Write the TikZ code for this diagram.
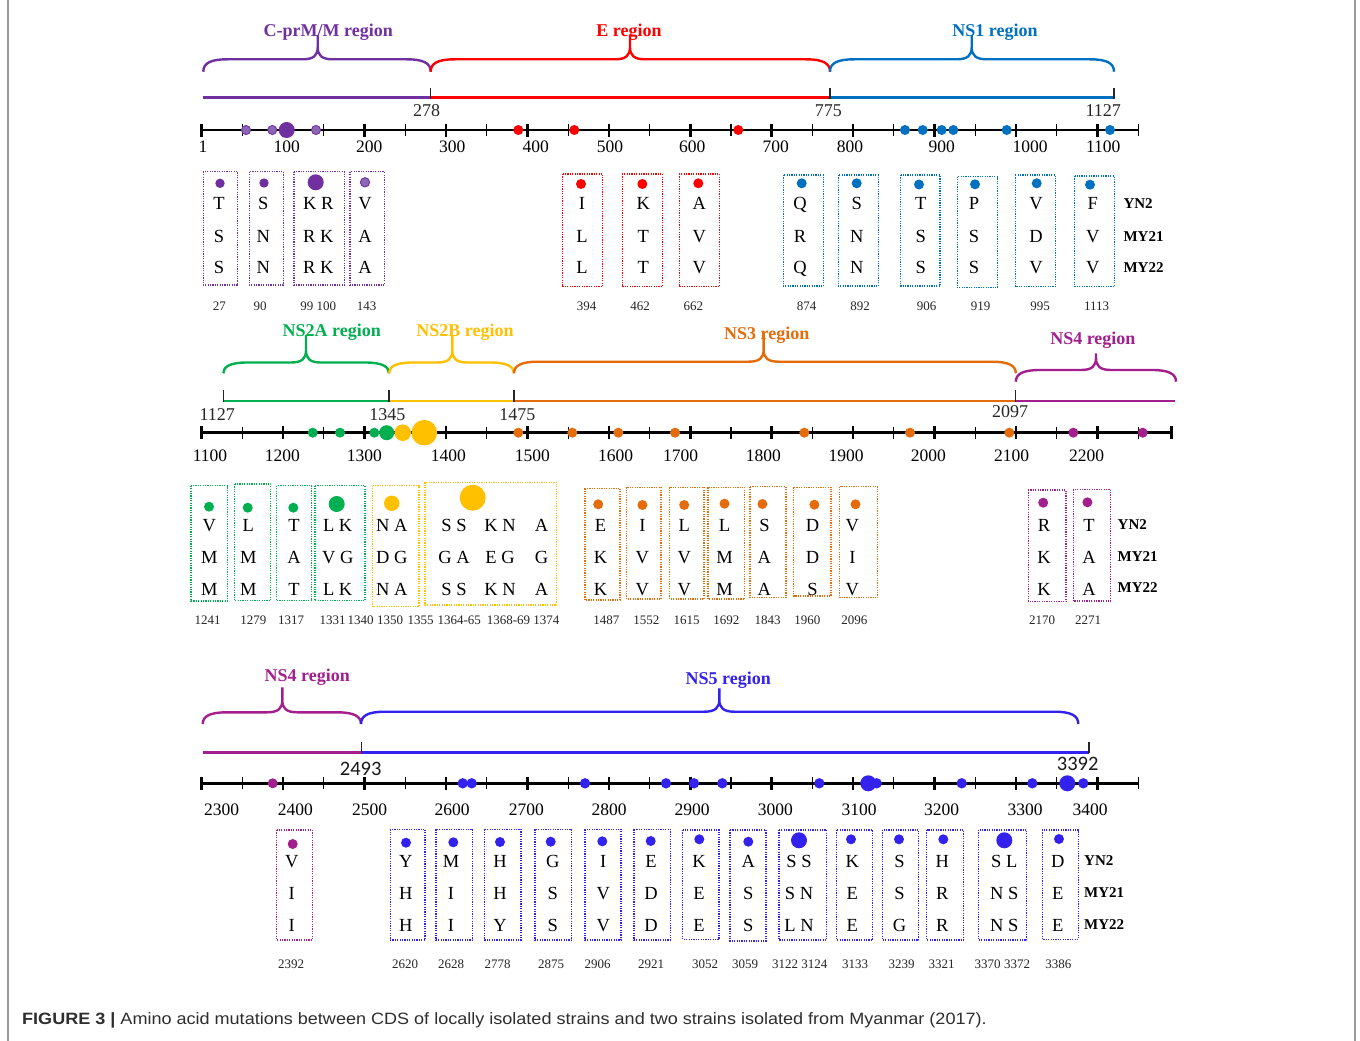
\documentclass[tikz,border=0pt]{standalone}
\usepackage{fontspec}
\usepackage{graphicx}
\setmainfont{Liberation Serif}
\newfontfamily\capsans{Liberation Sans}
\newfontfamily\carl{Carlito}
\definecolor{cprm}{HTML}{7030A0}
\definecolor{cprmlt}{HTML}{8A66B4}
\definecolor{eregion}{HTML}{FF0000}
\definecolor{nsone}{HTML}{0070C0}
\definecolor{nstwoa}{HTML}{00B050}
\definecolor{nstwob}{HTML}{FFC000}
\definecolor{nsthree}{HTML}{E46C0A}
\definecolor{nsfour}{HTML}{A31F8E}
\definecolor{nsfive}{HTML}{3322EE}
\definecolor{framegray}{HTML}{9A9A9A}
\definecolor{capgray}{HTML}{2E2E2E}

% curly brace over a genome region: colour, left x, right x, tip x, bar y, end y, tip y
\newcommand\regbrace[7]{%
  \draw[bracep, color=#1] (#2,#6) .. controls (#2,#5+4) and (#2+7,#5) .. (#2+24,#5)
    -- (#4-15,#5) .. controls (#4-4,#5) and (#4,#5-4) .. (#4,#5-12) -- (#4,#7)
    (#4,#5-12) .. controls (#4,#5-4) and (#4+4,#5) .. (#4+15,#5)
    -- (#3-24,#5) .. controls (#3-7,#5) and (#3,#5+4) .. (#3,#6);}

% amino-acid position axis with alternating thick and thin ticks
\newcommand\tickaxis[2]{%
  \draw[axisline] (201.5,#1) -- (#2,#1);
  \foreach \k in {0,...,23}{%
    \pgfmathsetmacro\tx{201.5+40.73*\k}%
    \ifodd\k\relax \draw[mintick] (\tx,#1-6) -- (\tx,#1+6);%
    \else \draw[majtick] (\tx,#1-6.5) -- (\tx,#1+6.5);\fi}}

\begin{document}
\begin{tikzpicture}[x=1pt,y=-1pt,
  axisline/.style={line width=2.6pt},
  majtick/.style={line width=2.6pt},
  mintick/.style={line width=1.1pt},
  regline/.style={line width=2.8pt},
  regtick/.style={line width=1.2pt, black!85},
  bracep/.style={line width=2.4pt, line join=round},
  mutframe/.style={line width=1.3pt, dash pattern=on 1.2pt off 1.2pt},
  aa/.style={font=\fontsize{18.5}{20}\selectfont, inner sep=0pt, text height=12.3pt, text depth=0pt},
  posnum/.style={font=\fontsize{13}{14}\selectfont, inner sep=0pt, text height=8.8pt, text depth=0pt, text=black!85},
  axnum/.style={font=\fontsize{17.5}{19}\selectfont, inner sep=0pt, text height=11.8pt, text depth=0pt},
  bndnum/.style={font=\fontsize{18}{20}\selectfont, inner sep=0pt, text height=12.2pt, text depth=0pt, text=black!85},
  bndsans/.style={font=\carl\fontsize{20.5}{22}\selectfont, inner sep=0pt, text height=13pt, text depth=0pt, text=black!90},
  regname/.style={font=\bfseries\fontsize{18}{20}\selectfont, inner sep=0pt, text height=11.9pt, text depth=0pt},
  strain/.style={font=\bfseries\fontsize{15}{17}\selectfont, inner sep=0pt, text height=10pt, text depth=0pt, anchor=west},
  smalldot/.style={fill=cprmlt, draw=cprm, line width=0.8pt}
]
\useasboundingbox (0,0) rectangle (1360,1041);
\fill[white] (0,0) rectangle (1360,1041);

% page frame
\draw[framegray, line width=1.4pt] (8,0) -- (8,1041);
\draw[framegray, line width=1.4pt] (1355,0) -- (1355,1041);

% ================= first band: C-prM/M, E, NS1 =================
\regbrace{cprm}{203.3}{430.7}{317.7}{59.3}{71.7}{35}
\regbrace{eregion}{430.7}{830}{630}{59.3}{71.7}{35}
\regbrace{nsone}{830}{1114}{971.7}{59.3}{71.7}{35}
\node[regname, text=cprm] (r-cprm) at (328.3,30.7) {C-prM/M region};
\node[regname, text=eregion] (r-e) at (629,30.7) {E region};
\node[regname, text=nsone] (r-ns1) at (995,30.7) {NS1 region};

\draw[regline, cprm] (203.3,97.7) -- (430.7,97.7);
\draw[regline, eregion] (430.7,97.7) -- (830,97.7);
\draw[regline, nsone] (830,97.7) -- (1114,97.7);
\foreach \bx in {430.7,830,1114} \draw[regtick] (\bx,87.7) -- (\bx,98.5);
\node[bndnum] (b-278) at (426.7,110.7) {278};
\node[bndnum] (b-775) at (828.3,110.7) {775};
\node[bndnum] (b-1127) at (1103.3,110.7) {1127};

\tickaxis{130}{1138.3}
\foreach \lx/\lt [count=\i] in {203/1,286.7/100,369.3/200,452.3/300,535.7/400,610/500,692.3/600,775.7/700,850/800,941.7/900,1030/1000,1103.3/1100}
  \node[axnum] (ax1-\i) at (\lx,146.7) {\lt};
\foreach \px in {246,272.3,316} \filldraw[smalldot] (\px,130) circle[radius=4.6pt];
\fill[cprm] (286.7,130) circle[radius=8pt];
\foreach \px in {518.3,574.3,738.3} \fill[eregion] (\px,130) circle[radius=5pt];
\foreach \px in {905,922.7,941.7,953.3,1006.7,1110} \fill[nsone] (\px,130) circle[radius=5pt];

\foreach \bn/\bc/\xa/\xb/\ya/\yb/\dx/\dy/\dr/\lx/\la/\lb/\lc in {%
 p27/cprm/203.3/237.7/171.7/285/220/183.3/4.7pt/219/T/S/S,%
 p90/cprm/249.3/283.3/171.7/285/264/183/4.7pt/263.3/S/N/N,%
 p99/cprm/294/344.3/171.7/285/315.7/182.3/8pt/318.3/K R/R K/R K,%
 p143/cprm/350/384.3/171.7/285/365/182.3/4.7pt/365/V/A/A,%
 e394/eregion/562.3/602.7/174/286.7/581/184/5pt/582/I/L/L,%
 e462/eregion/622.3/662.3/174/286.7/642.3/184/5pt/643.3/K/T/T,%
 e662/eregion/679.3/719.3/174/286.7/698.3/183.3/5pt/699.3/A/V/V,%
 n874/nsone/783.3/823.3/175/286/801.7/183.3/5pt/800/Q/R/Q,%
 n892/nsone/838.3/878.3/175/286/856.7/183.3/5pt/856.7/S/N/N,%
 n906/nsone/900.7/940/175/286/919/184.5/5pt/920.7/T/S/S,%
 n919/nsone/957.3/997.3/176.7/287.7/975/184.3/5pt/974/P/S/S,%
 n995/nsone/1015.3/1055.3/175/286.7/1036.7/183.3/5pt/1036/V/D/V,%
 n1113/nsone/1074.7/1114.3/176/286.7/1090/184.7/5pt/1092.7/F/V/V%
}{
  \draw[mutframe, draw=\bc] (\xa,\ya) rectangle (\xb,\yb);
  \fill[fill=\bc] (\dx,\dy) circle[radius=\dr];
  \node[aa] (\bn-1) at (\lx,203.3) {\la};
  \node[aa] (\bn-2) at (\lx,236) {\lb};
  \node[aa] (\bn-3) at (\lx,267.7) {\lc};
}
\filldraw[smalldot] (365,182.3) circle[radius=4.7pt];
\foreach \nx/\nt [count=\i] in {219.3/27,260/90,318.3/99 100,366.7/143,586.7/394,640/462,693.3/662,806.7/874,860/892,926.7/906,980.7/919,1040/995,1096.7/1113}
  \node[posnum] (pos1-\i) at (\nx,305.7) {\nt};
\node[strain] (s1-yn2) at (1123.3,203.3) {YN2};
\node[strain] (s1-my21) at (1123.3,236) {MY21};
\node[strain] (s1-my22) at (1123.3,267.3) {MY22};

% ================= second band: NS2A, NS2B, NS3, NS4 =================
\regbrace{nstwoa}{223.3}{389}{306}{362.5}{373.3}{335}
\regbrace{nstwob}{389}{514}{452.3}{362.5}{373.3}{335}
\regbrace{nsthree}{514}{1015.8}{763.6}{361.7}{373.3}{331.7}
\regbrace{nsfour}{1015.8}{1176}{1096}{370}{381.7}{353.3}
\node[regname, text=nstwoa] (r-ns2a) at (331.7,331) {NS2A region};
\node[regname, text=nstwob] (r-ns2b) at (465,331) {NS2B region};
\node[regname, text=nsthree] (r-ns3) at (766.7,334) {NS3 region};
\node[regname, text=nsfour] (r-ns4a) at (1092.9,338.3) {NS4 region};

\draw[regline, nstwoa] (223.3,401) -- (389,401);
\draw[regline, nstwob] (389,401) -- (514,401);
\draw[regline, nsthree] (514,401) -- (1015.8,401);
\draw[regline, nsfour] (1015.8,401) -- (1175,401);
\foreach \bx in {223.3,389,514,1015.8} \draw[regtick] (\bx,389.5) -- (\bx,402);
\node[bndnum] (b-1127b) at (217.3,414.3) {1127};
\node[bndnum] (b-1345) at (387.3,414) {1345};
\node[bndnum] (b-1475) at (517.3,414) {1475};
\node[bndnum] (b-2097) at (1010,411.7) {2097};

\tickaxis{432.7}{1171.7}
\draw[majtick] (1171.7,426.2) -- (1171.7,439.2);
\foreach \lx/\lt [count=\i] in {210/1100,282.3/1200,364.3/1300,448.3/1400,532.3/1500,615.7/1600,680.5/1700,763.3/1800,846/1900,928.3/2000,1011.7/2100,1086.7/2200}
  \node[axnum] (ax2-\i) at (\lx,455.7) {\lt};
\foreach \px in {312.7,340,374.3} \fill[nstwoa] (\px,432.7) circle[radius=5pt];
\fill[nstwoa] (386.7,432.7) circle[radius=7.5pt];
\fill[nstwob] (402.7,432.7) circle[radius=8.3pt];
\fill[nstwob] (424.3,432.7) circle[radius=12.8pt];
\foreach \px in {518.3,572.3,618.3,675,804.3,910,1009.3} \fill[nsthree] (\px,432.7) circle[radius=5pt];
\foreach \px in {1073.3,1142.7} \fill[nsfour] (\px,432.7) circle[radius=5pt];

\foreach \bn/\bc/\xa/\xb/\ya/\yb/\dx/\dy/\dr/\lx/\la/\lb/\lc in {%
 a1241/nstwoa/191/227.3/485.7/601/209/506.7/5pt/209.3/V/M/M,%
 a1279/nstwoa/234.3/270.7/484/600.7/247.7/507.7/5pt/248.3/L/M/M,%
 a1317/nstwoa/276.7/311.7/485.7/600.7/293.3/507.7/5pt/294/T/A/T,%
 a1331/nstwoa/315/365/485.7/600.7/336.7/504/8pt/337.7/L K/V G/L K,%
 b1350/nstwob/372.7/419/485.7/606.7/391.7/503.3/7.7pt/391.7/N A/D G/N A,%
 c1487/nsthree/584.9/620/488.3/600/598.2/504.3/5pt/600.5/E/K/K,%
 c1552/nsthree/626.7/661.1/487.3/599/642.4/505/5pt/642.4/I/V/V,%
 c1615/nsthree/669.7/704.1/487.3/599/684.2/505/5pt/684.2/L/V/V,%
 c1692/nsthree/708/744.8/487.3/599/724.5/503.7/5pt/724.5/L/M/M,%
 c1843/nsthree/749.9/785.9/486.7/597.7/762.4/504/5pt/764.4/S/A/A,%
 c1960/nsthree/793.7/830.9/487.3/596/814.4/504.7/5pt/812.5/D/D/S,%
 c2096/nsthree/839.8/877.8/486.7/597.7/855.5/504.3/5pt/852.4/V/I/V,%
 d2170/nsfour/1028.4/1065.9/490/601.7/1043.2/502.7/5pt/1044/R/K/K,%
 d2271/nsfour/1073.3/1110.5/489.3/601/1087.4/502.3/5pt/1089/T/A/A%
}{
  \draw[mutframe, draw=\bc] (\xa,\ya) rectangle (\xb,\yb);
  \fill[fill=\bc] (\dx,\dy) circle[radius=\dr];
  \node[aa] (\bn-1) at (\lx,525) {\la};
  \node[aa] (\bn-2) at (\lx,557.7) {\lb};
  \node[aa] (\bn-3) at (\lx,589.3) {\lc};
}
% NS2B cluster 1364-1374
\draw[mutframe, draw=nstwob] (425,482.3) rectangle (556.7,605);
\fill[nstwob] (472.7,497.7) circle[radius=13pt];
\foreach \lx/\la/\lb/\lc [count=\i] in {454/S S/G A/S S,500/K N/E G/K N,541.5/A/G/A}{
  \node[aa] (b1364-\i-1) at (\lx,525) {\la};
  \node[aa] (b1364-\i-2) at (\lx,557.7) {\lb};
  \node[aa] (b1364-\i-3) at (\lx,589.3) {\lc};
}
\foreach \nx/\nt [count=\i] in {207.5/1241,253.3/1279,291.2/1317,332.5/1331,360.5/1340,390/1350,420.5/1355,459.2/1364-65,508.5/1368-69,546.3/1374,606.4/1487,646.3/1552,686.5/1615,726.4/1692,767.5/1843,807.4/1960,854.3/2096,1042/2170,1088.2/2271}
  \node[posnum] (pos2-\i) at (\nx,620) {\nt};
\node[strain] (s2-yn2) at (1117.5,524) {YN2};
\node[strain] (s2-my21) at (1117.5,556.7) {MY21};
\node[strain] (s2-my22) at (1117.5,587.7) {MY22};

% ================= third band: NS4, NS5 =================
\regbrace{nsfour}{202.7}{361}{282.3}{712.3}{724}{687.3}
\regbrace{nsfive}{361}{1078.3}{719.3}{711.7}{724}{688.3}
\node[regname, text=nsfour] (r-ns4b) at (307.3,676) {NS4 region};
\node[regname, text=nsfive] (r-ns5) at (728.3,678.3) {NS5 region};

\draw[regline, nsfour] (203.3,752.3) -- (361.7,752.3);
\draw[regline, nsfive] (361.7,752.3) -- (1089,752.3);
\foreach \bx in {361.7,1089} \draw[regtick] (\bx,741.5) -- (\bx,753.3);
\node[bndsans] (b-2493) at (360.7,769) {2493};
\node[bndsans] (b-3392) at (1077.7,764) {3392};

\tickaxis{783.3}{1138.3}
\foreach \lx/\lt [count=\i] in {221.7/2300,295.3/2400,369.5/2500,452.2/2600,526.3/2700,609.2/2800,692/2900,775.3/3000,859.2/3100,941.7/3200,1025/3300,1090/3400}
  \node[axnum] (ax3-\i) at (\lx,810) {\lt};
\fill[nsfour] (272.7,783.3) circle[radius=5pt];
\foreach \px in {462.7,471.7,585,666,694,722.3,819.3,876.7,961.7,1032.3,1083.3} \fill[nsfive] (\px,783.3) circle[radius=5.2pt];
\fill[nsfive] (868.3,783.3) circle[radius=8pt];
\fill[nsfive] (1067.3,783.3) circle[radius=8pt];

\foreach \bn/\bc/\xa/\xb/\ya/\yb/\dx/\dy/\dr/\lx/\la/\lb/\lc in {%
 e2392/nsfour/276.7/312.3/830/940/292.7/844/5pt/291.7/V/I/I,%
 f2620/nsfive/390.3/425/829.3/940/406/842.7/5pt/405.7/Y/H/H,%
 f2628/nsfive/436/472.7/829.3/940/453.3/842.3/5pt/451/M/I/I,%
 f2778/nsfive/484.7/521/829.3/940/500/842/5pt/500/H/H/Y,%
 f2875/nsfive/535/571.7/829.3/940/550.7/841.7/5pt/552.7/G/S/S,%
 f2906/nsfive/585/621/829.3/940/602.3/841.3/5pt/603.3/I/V/V,%
 f2921/nsfive/634/670.3/829.3/940/650.7/841/5pt/651/E/D/D,%
 f3052/nsfive/682.7/719/830/939.3/699.3/839.3/5pt/699/K/E/E,%
 f3059/nsfive/730/766/830/941/748.3/841.7/5pt/748.3/A/S/S,%
 f3122/nsfive/779/826.7/830/940/799/840.3/8pt/799/S S/S N/L N,%
 f3133/nsfive/836.7/872.7/830/940/851/839.3/5pt/852.3/K/E/E,%
 f3239/nsfive/882.3/918.7/830/940/899/839.3/5pt/899.5/S/S/G,%
 f3321/nsfive/926.7/963.3/830/940/943.3/839.3/5pt/942.3/H/R/R,%
 f3370/nsfive/978.3/1026.7/830/940/1004.3/840.3/8pt/1004.3/S L/N S/N S,%
 f3386/nsfive/1042.3/1078.3/830/939.3/1059/839/5pt/1057.7/D/E/E%
}{
  \draw[mutframe, draw=\bc] (\xa,\ya) rectangle (\xb,\yb);
  \fill[fill=\bc] (\dx,\dy) circle[radius=\dr];
  \node[aa] (\bn-1) at (\lx,861) {\la};
  \node[aa] (\bn-2) at (\lx,893) {\lb};
  \node[aa] (\bn-3) at (\lx,925) {\lc};
}
\foreach \nx/\nt [count=\i] in {291/2392,405/2620,451/2628,497.7/2778,551/2875,597.7/2906,651/2921,705/3052,745/3059,785/3122,814.3/3124,855/3133,901.7/3239,941.7/3321,987.5/3370,1017.2/3372,1058.3/3386}
  \node[posnum] (pos3-\i) at (\nx,964.3) {\nt};
\node[strain] (s3-yn2) at (1084,860) {YN2};
\node[strain] (s3-my21) at (1084,892.3) {MY21};
\node[strain] (s3-my22) at (1084,924.3) {MY22};

% caption
\node[anchor=base west, inner sep=0pt, text=capgray, font=\capsans\fontsize{16.4}{18}\selectfont] (caption) at (22,1024)
  {\scalebox{1.1}[1]{\textbf{FIGURE 3 |} Amino acid mutations between CDS of locally isolated strains and two strains isolated from Myanmar (2017).}};
\end{tikzpicture}
\end{document}
